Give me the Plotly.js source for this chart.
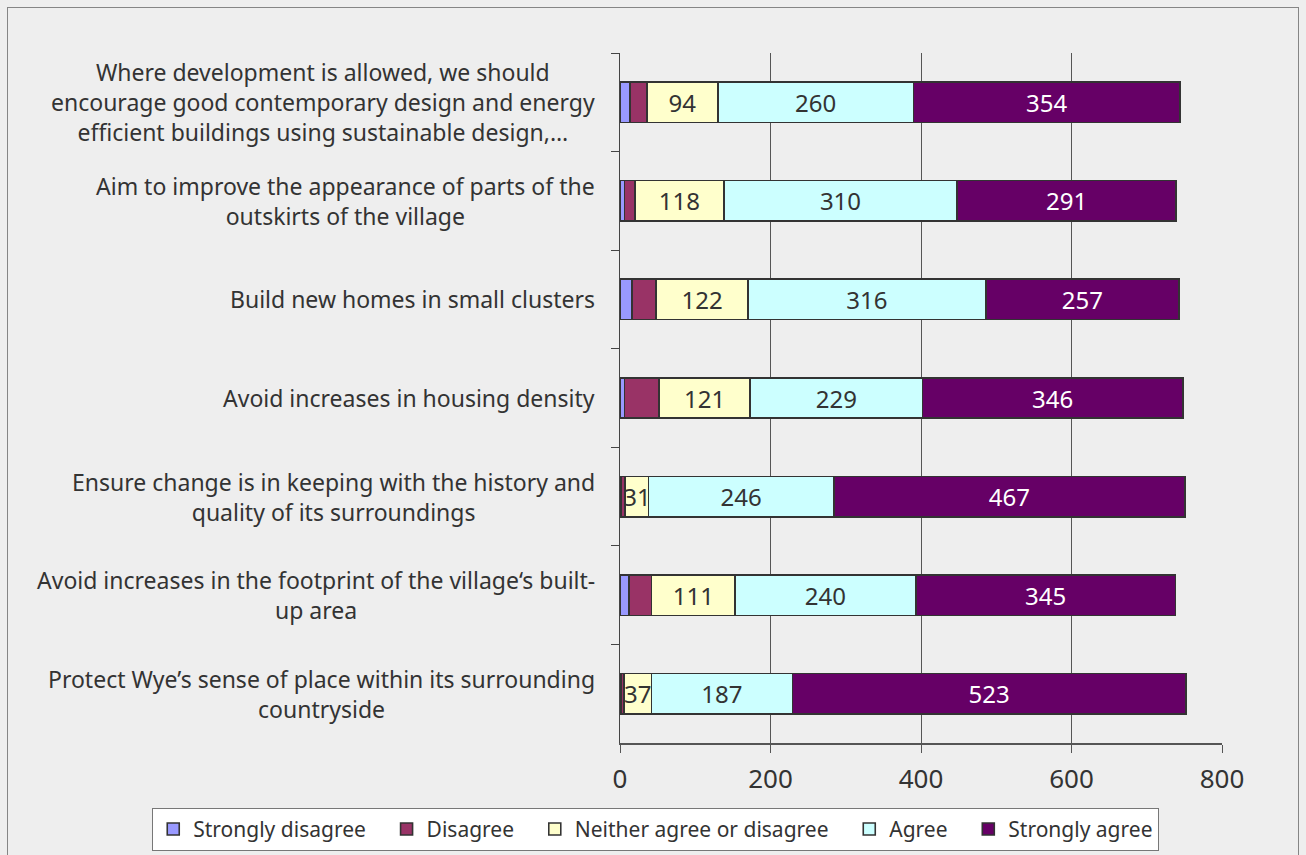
<!DOCTYPE html>
<html>
<head>
<meta charset="utf-8">
<script src="https://cdn.plot.ly/plotly-3.0.1.min.js"></script>
<style>
html,body{margin:0;padding:0;background:#eeeeee;}
#frame{position:absolute;left:7px;top:7px;width:1292px;height:900px;border:1.5px solid #858585;box-sizing:border-box;}
#chart{position:absolute;left:0;top:0;width:1306px;height:855px;}
</style>
</head>
<body>
<div id="frame"></div>
<div id="chart"></div>
<script>
const categories = [
  "Where development is allowed, we should<br>encourage good contemporary design and energy<br>efficient buildings using sustainable design,…",
  "Aim to improve the appearance of parts of the<br>outskirts of the village",
  "Build new homes in small clusters",
  "Avoid increases in housing density",
  "Ensure change is in keeping with the history and<br>quality of its surroundings",
  "Avoid increases in the footprint of the village‘s built-<br>up area",
  "Protect Wye’s sense of place within its surrounding<br>countryside"
];
const seriesNames = ["Strongly disagree","Disagree","Neither agree or disagree","Agree","Strongly agree"];
const stronglyDisagree = [13, 6, 16, 6, 2, 12, 1];
const disagree = [23, 14, 32, 46, 5, 30, 4];
const neither = [94, 118, 122, 121, 31, 111, 37];
const agree = [260, 310, 316, 229, 246, 240, 187];
const stronglyAgree = [354, 291, 257, 346, 467, 345, 523];
const xTicks = [0, 200, 400, 600, 800];

const colors = ["#9999ff","#993366","#ffffcc","#ccffff","#660066"];
const labelColors = [null, null, "#333333", "#333333", "#ffffff"];
const values = [stronglyDisagree, disagree, neither, agree, stronglyAgree];
const FONT = "Noto Sans, Liberation Sans, Arial, sans-serif";
const PAD = "\u2002\u2005";

const traces = values.map((v, i) => ({
  type: "bar",
  orientation: "h",
  name: seriesNames[i] + (i < seriesNames.length - 1 ? PAD : ""),
  y: categories,
  x: v,
  width: 0.41,
  marker: {color: colors[i], line: {color: "#333333", width: 1.6}},
  text: labelColors[i] ? v.map(String) : undefined,
  textposition: labelColors[i] ? "inside" : "none",
  insidetextanchor: "middle",
  textangle: 0,
  constraintext: "none",
  insidetextfont: {family: FONT, size: 24, color: labelColors[i] || "#333"},
  hoverinfo: "x+name"
}));

const annotations = categories.map(c => ({
  xref: "paper", yref: "y",
  x: -0.038, y: c,
  xanchor: "right", yanchor: "middle",
  align: "center",
  text: c,
  showarrow: false,
  font: {family: FONT, size: 23, color: "#333333"}
}));

const layout = {
  width: 1306, height: 855,
  margin: {l: 620, r: 84, t: 52.5, b: 112, pad: 0, autoexpand: false},
  paper_bgcolor: "rgba(0,0,0,0)",
  plot_bgcolor: "rgba(0,0,0,0)",
  barmode: "stack",
  showlegend: true,
  font: {family: FONT, color: "#333333"},
  xaxis: {
    range: [0, 800],
    tickvals: xTicks,
    ticktext: xTicks.map(String),
    showgrid: true, gridcolor: "#555555", gridwidth: 1,
    showline: true, linecolor: "#555555", linewidth: 1.5,
    ticks: "outside", ticklen: 8, tickcolor: "#555555", tickwidth: 1,
    ticklabelstandoff: 4,
    zeroline: false,
    tickfont: {family: FONT, size: 26, color: "#333333"},
    fixedrange: true
  },
  yaxis: {
    type: "category",
    autorange: "reversed",
    showgrid: false,
    showline: true, linecolor: "#444444", linewidth: 1.5,
    ticks: "outside", ticklen: 8, tickcolor: "#444444", tickwidth: 1,
    tickson: "boundaries",
    showticklabels: false,
    zeroline: false,
    fixedrange: true
  },
  legend: {
    orientation: "h",
    x: -0.777, xanchor: "left",
    y: -0.094, yanchor: "top",
    bgcolor: "#ffffff",
    bordercolor: "#777777", borderwidth: 1,
    font: {family: FONT, size: 21, color: "#333333"},
    traceorder: "normal",
    itemwidth: 30
  },
  annotations: annotations
};

Plotly.newPlot("chart", traces, layout, {displayModeBar: false, staticPlot: true});
</script>
</body>
</html>
